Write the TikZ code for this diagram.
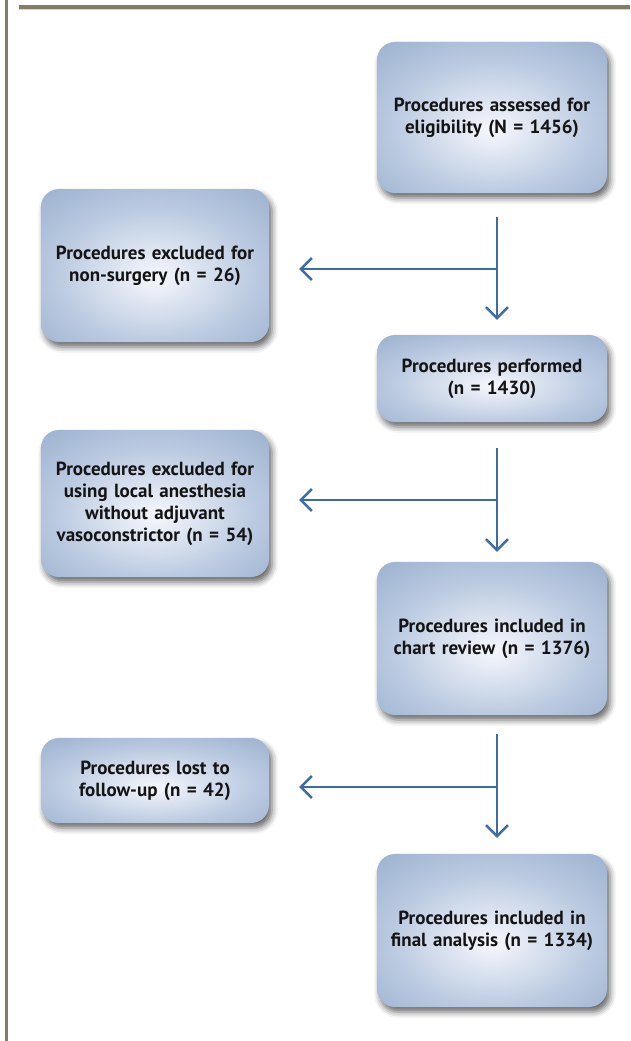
\documentclass[tikz,border=0pt]{standalone}
\usepackage{fontspec}
\setmainfont{PT Sans}
\usetikzlibrary{arrows.meta,shadows.blur}
\definecolor{barcol}{HTML}{857B69}
\definecolor{barlight}{HTML}{D9D4CB}
\definecolor{arrcol}{HTML}{3D6BA3}
\definecolor{txtcol}{HTML}{141414}
\pgfdeclareradialshading{boxshade}{\pgfpoint{0bp}{-4bp}}{%
  rgb(0bp)=(0.96,0.97,0.99);
  rgb(6bp)=(0.90,0.92,0.96);
  rgb(22bp)=(0.73,0.79,0.88);
  rgb(40bp)=(0.59,0.68,0.80);
  rgb(50bp)=(0.54,0.64,0.77);
  rgb(100bp)=(0.52,0.63,0.76)}
\tikzset{
  flowbox/.style={rectangle, rounded corners=18pt, shading=boxshade,
    blur shadow={shadow xshift=3pt, shadow yshift=-5pt, shadow blur radius=6pt, shadow opacity=60},
    align=center, text=txtcol, font=\fontsize{19}{22}\selectfont\bfseries,
    inner sep=0pt},
  rbox/.style={flowbox, minimum width=230pt, text width=226pt},
  lbox/.style={flowbox, minimum width=228pt, text width=224pt},
  conn/.style={draw=arrcol, line width=2.4pt},
  arr/.style={conn, -{Straight Barb[length=11pt,width=22pt,line width=2.4pt]}}
}
\begin{document}
\begin{tikzpicture}[x=1pt,y=-1pt]
\useasboundingbox (0,0) rectangle (630,1041);
% frame bars
\fill[barcol] (5,0) rectangle (8,1041);
\fill[barcol] (19,5) rectangle (630,9);
\fill[barlight] (19,9) rectangle (630,10);
% boxes
\node[rbox, minimum height=151pt] (A) at (492,117.5) {Procedures assessed for\\eligibility (N = 1456)};
\node[lbox, minimum height=153pt] (B) at (155,265.5) {Procedures excluded for\\non-surgery (n = 26)};
\node[rbox, minimum height=87pt] (C) at (492,378.5) {Procedures performed\\(n = 1430)};
\node[lbox, minimum height=147pt] (D) at (155,503.5) {Procedures excluded for\\using local anesthesia\\without adjuvant\\vasoconstrictor (n = 54)};
\node[rbox, minimum height=153pt] (E) at (492,638.5) {Procedures included in\\chart review (n = 1376)};
\node[lbox, minimum height=85pt] (F) at (155,780.5) {Procedures lost to\\follow-up (n = 42)};
\node[rbox, minimum height=153pt] (G) at (492,930.5) {Procedures included in\\final analysis (n = 1334)};
% connectors
\coordinate (vx) at (497,0);
\coordinate (j1) at (497,269);
\coordinate (j2) at (497,500);
\coordinate (j3) at (497,787);
\draw[arr, shorten <=24pt, shorten >=15pt] (A.south -| vx) -- (C.north -| vx);
\draw[arr, shorten >=30pt] (j1) -- (B.east |- j1);
\draw[arr, shorten <=26pt, shorten >=10pt] (C.south -| vx) -- (E.north -| vx);
\draw[arr, shorten >=30pt] (j2) -- (D.east |- j2);
\draw[arr, shorten <=19pt, shorten >=16pt] (E.south -| vx) -- (G.north -| vx);
\draw[arr, shorten >=30pt] (j3) -- (F.east |- j3);
\end{tikzpicture}
\end{document}
